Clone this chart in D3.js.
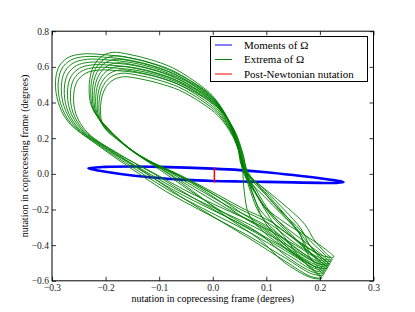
<!DOCTYPE html>
<html>
<head>
<meta charset="utf-8">
<script src="https://cdn.jsdelivr.net/npm/d3@7"></script>
<style>
body { margin: 0; background: #fff; }
text { font-family: "Liberation Serif", "DejaVu Serif", serif; }
</style>
</head>
<body>
<svg width="415" height="312"></svg>
<script>
// ---- data ----
var xTicks = [-0.3, -0.2, -0.1, 0.0, 0.1, 0.2, 0.3];
var yTicks = [-0.6, -0.4, -0.2, 0.0, 0.2, 0.4, 0.6, 0.8];
var legendLabels = ["Moments of \u03A9", "Extrema of \u03A9", "Post-Newtonian nutation"];
var legendColors = ["#0000ff", "#008000", "#ff0000"];

// moments of Omega: thin tilted loop round the origin
var momentsLoop = [
  [-0.232, 0.032], [-0.2, 0.039], [-0.15, 0.041], [-0.1, 0.039], [-0.05, 0.035],
  [0.0, 0.029], [0.05, 0.021], [0.1, 0.009], [0.15, -0.007], [0.2, -0.025],
  [0.235, -0.040], [0.244, -0.047], [0.23, -0.051], [0.2, -0.051], [0.15, -0.048],
  [0.1, -0.045], [0.05, -0.043], [0.0, -0.040], [-0.05, -0.034], [-0.1, -0.023],
  [-0.15, -0.009], [-0.2, 0.012], [-0.225, 0.026]
];

// post-Newtonian nutation: short vertical segment
var pnNutation = [[0.003, 0.035], [0.003, -0.049]];

// extrema of Omega: outermost loop of each of the two families
// [x, y, share of the lower-right fan, share of the tail drift, share of the side spread]
var outlineA = [
  [-0.2888, 0.405, 0, 0, 0], [-0.2935, 0.517, 0, 0, 0], [-0.2869, 0.602, 0, 0, 0],
  [-0.2701, 0.652, 0, 0, 0], [-0.2439, 0.672, 0, 0, 0],
  [-0.2065, 0.669, 0, 0, 0], [-0.1579, 0.652, 0, 0, 0], [-0.1019, 0.607, 0, 0, 0],
  [-0.0458, 0.529, 0, 0, 0], [-0.0028, 0.439, 0, 0, 0],
  [0.029, 0.304, 0, 0, 0], [0.0458, 0.163, 0, 0, 0], [0.0551, 0.034, 0, 0.15, 0],
  [0.0589, -0.101, 0.57, 0.4, 0], [0.0682, -0.231, 1, 0.7, 0], [0.1037, -0.349, 0.9, 0.9, 0],
  [0.1542, -0.450, 0.3, 1, 0], [0.1935, -0.529, 0, 1, 0], [0.2065, -0.568, 0, 1, 0],
  [0.186, -0.562, 0, 1, 0], [0.1355, -0.472, 0, 1, 0],
  [0.0607, -0.338, 0, 0.85, 0.2], [-0.014, -0.219, 0, 0.6, 0.6], [-0.0888, -0.096, 0, 0.35, 1],
  [-0.1542, 0.034, 0, 0.15, 1], [-0.2159, 0.163, 0, 0, 0.6], [-0.2701, 0.293, 0, 0, 0.2]
];
var outlineB = [
  [-0.2252, 0.371, 0, 0, 0], [-0.2308, 0.472, 0, 0, 0], [-0.2252, 0.585, 0, 0, 0],
  [-0.2103, 0.652, 0, 0, 0], [-0.1879, 0.681, 0, 0, 0],
  [-0.1542, 0.669, 0, 0, 0], [-0.1168, 0.641, 0, 0, 0], [-0.0757, 0.596, 0, 0, 0],
  [-0.0327, 0.517, 0, 0, 0], [0.0009, 0.433, 0, 0, 0],
  [0.029, 0.304, 0, 0, 0], [0.0458, 0.163, 0, 0, 0], [0.0551, 0.034, 0, 0.15, 0],
  [0.0589, -0.101, 0.57, 0.4, 0], [0.0682, -0.231, 1, 0.7, 0], [0.1037, -0.349, 0.9, 0.9, 0],
  [0.1542, -0.450, 0.3, 1, 0], [0.1935, -0.529, 0, 1, 0], [0.2065, -0.568, 0, 1, 0],
  [0.186, -0.562, 0, 1, 0], [0.1355, -0.472, 0, 1, 0],
  [0.0850, -0.343, 0, 0.85, 0.2], [0.0178, -0.225, 0, 0.6, 0.6], [-0.0458, -0.101, 0, 0.35, 1],
  [-0.1037, 0.023, 0, 0.15, 1], [-0.1636, 0.152, 0, 0, 0.6], [-0.2028, 0.276, 0, 0, 0.2]
];
var loopTip = [0.205, -0.565];

// each later loop shrinks toward the tip, its tail drifts and its side spreads; one entry per loop
var loopFamily = ["A", "A", "A", "A", "A", "A", "A", "B", "B", "B", "B", "B", "B", "B", "B"];
var shrinkX = [1, .99, .978, .967, .955, .944, .932, 1, .993, .986, .979, .972, .965, .958, .951];
var shrinkY = [1, .988, .976, .963, .951, .939, .927, 1, .984, .969, .953, .937, .921, .906, .89];
var fanDx   = [0, .015, .030, .008, .022, .037, .052, .064, .058, .019, .041, .056, .011, .030, .046];
var tailDx  = [0, .0037, .0075, .0112, -.0028, .015, .0056, .0019, .0094, .0131, -.0037, .0168, .0196, .0075, .0112];
var tailDy  = [0, .0193, .0387, .058, -.0145, .0774, .029, .0097, .0484, .0677, -.0193, .0871, .1016, .0387, .058];
var sideDx  = [0, .004, .008, .011, .015, .019, .022, .004, .009, .014, .019, .025, .030, .035, .040];

// ---- chart ----
var svg = d3.select("svg"),
    width = +svg.attr("width"),
    height = +svg.attr("height");

var margin = {left: 52, right: 41.5, top: 31.2, bottom: 31.2};
var x = d3.scaleLinear().domain([-0.3, 0.3]).range([margin.left, width - margin.right]);
var y = d3.scaleLinear().domain([-0.6, 0.8]).range([height - margin.bottom, margin.top]);

var line = d3.line()
    .x(function(d) { return x(d[0]); })
    .y(function(d) { return y(d[1]); });

var loops = loopFamily.map(function(fam, i) {
  var outline = fam == "A" ? outlineA : outlineB;
  return outline.map(function(p) {
    return [loopTip[0] + shrinkX[i] * (p[0] - loopTip[0]) + p[2] * fanDx[i] + p[3] * tailDx[i] + p[4] * sideDx[i],
            loopTip[1] + shrinkY[i] * (p[1] - loopTip[1]) + p[3] * tailDy[i]];
  });
});

var plot = svg.append("g").attr("class", "plot");

plot.append("path")
    .datum(momentsLoop)
    .attr("fill", "none")
    .attr("stroke", "#0000ff")
    .attr("stroke-width", 2.6)
    .attr("d", line.curve(d3.curveCatmullRomClosed.alpha(0.5)));

plot.append("g")
    .attr("class", "extrema")
    .selectAll("path")
    .data(loops)
    .enter().append("path")
    .attr("fill", "none")
    .attr("stroke", "#008000")
    .attr("stroke-width", 0.9)
    .attr("d", line.curve(d3.curveCatmullRomClosed.alpha(0.5)));

plot.append("path")
    .datum(pnNutation)
    .attr("fill", "none")
    .attr("stroke", "#ff0000")
    .attr("stroke-width", 1.5)
    .attr("d", line.curve(d3.curveLinear));

// axes, ticks pointing inward on all four sides
var fmt = d3.format(".1f");
svg.append("g")
    .attr("transform", "translate(0," + y.range()[0] + ")")
    .call(d3.axisBottom(x).tickValues(xTicks).tickFormat(fmt).tickSizeInner(-4).tickSizeOuter(0).tickPadding(3.5));
svg.append("g")
    .attr("transform", "translate(" + x.range()[0] + ",0)")
    .call(d3.axisLeft(y).tickValues(yTicks).tickFormat(fmt).tickSizeInner(-4).tickSizeOuter(0).tickPadding(3));
svg.append("g")
    .attr("transform", "translate(0," + y.range()[1] + ")")
    .call(d3.axisTop(x).tickValues(xTicks).tickFormat("").tickSizeInner(-4).tickSizeOuter(0));
svg.append("g")
    .attr("transform", "translate(" + x.range()[1] + ",0)")
    .call(d3.axisRight(y).tickValues(yTicks).tickFormat("").tickSizeInner(-4).tickSizeOuter(0));

svg.selectAll(".domain").remove();
svg.selectAll(".tick line").attr("stroke", "#000").attr("stroke-width", 0.8);
svg.selectAll(".tick text").attr("font-size", 9.5).attr("fill", "#222")
    .style("font-family", "'Liberation Serif', serif");

svg.append("rect")
    .attr("x", x.range()[0])
    .attr("y", y.range()[1])
    .attr("width", x.range()[1] - x.range()[0])
    .attr("height", y.range()[0] - y.range()[1])
    .attr("fill", "none")
    .attr("stroke", "#000")
    .attr("stroke-width", 1);

svg.append("text")
    .attr("x", (x.range()[0] + x.range()[1]) / 2)
    .attr("y", 302)
    .attr("text-anchor", "middle")
    .attr("font-size", 10)
    .text("nutation in coprecessing frame (degrees)");

svg.append("text")
    .attr("transform", "translate(27.5," + (y.range()[0] + y.range()[1]) / 2 + ") rotate(-90)")
    .attr("text-anchor", "middle")
    .attr("font-size", 10)
    .text("nutation in coprecessing frame (degrees)");

// legend
var legend = svg.append("g").attr("class", "legend");
legend.append("rect")
    .attr("x", 210.5).attr("y", 36.5)
    .attr("width", 157).attr("height", 45)
    .attr("fill", "#fff")
    .attr("stroke", "#000")
    .attr("stroke-width", 1);

var entry = legend.selectAll("g.entry")
    .data(legendLabels)
    .enter().append("g")
    .attr("class", "entry")
    .attr("transform", function(d, i) { return "translate(0," + (45 + i * 14.5) + ")"; });

entry.append("line")
    .attr("x1", 215).attr("x2", 232)
    .attr("stroke", function(d, i) { return legendColors[i]; })
    .attr("stroke-width", 1);

entry.append("text")
    .attr("x", 244)
    .attr("y", 3.7)
    .attr("font-size", 11)
    .text(function(d) { return d; });
</script>
</body>
</html>
